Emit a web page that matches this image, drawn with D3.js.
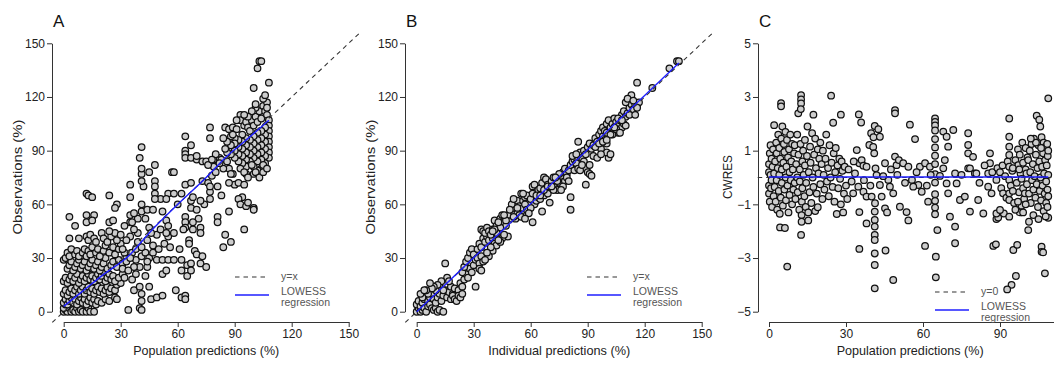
<!DOCTYPE html>
<html><head><meta charset="utf-8">
<script src="https://cdn.jsdelivr.net/npm/d3@7"></script>
<style>body{margin:0;background:#fff}text{font-family:"Liberation Sans",Arial,Helvetica,sans-serif}</style>
</head><body><svg id="c" width="1054" height="365"></svg>
<script>
const ticksObs = [0,30,60,90,120,150];
const ticksPredC = [0,30,60,90];
const ticksCwres = [-5,-3,-1,1,3,5];
const panelLetters = ["A","B","C"];
const xTitles = ["Population predictions (%)","Individual predictions (%)","Population predictions (%)"];
const yTitles = ["Observations (%)","Observations (%)","CWRES"];
const legendAB = ["y=x","LOWESS","regression"];
const legendC = ["y=0","LOWESS","regression"];
const lowessA = [[0,3],[10,11.5],[20,20],[35,32],[45,44],[61,61],[75,75],[86,87],[95,95],[108,107]];
const lowessB = [[0,0],[138,139]];
const lowessC = [[0,0.02],[108.8,0.02]];
const refAB = [[-6,-6],[156,156]];
const refC = [[-4.4,0],[113,0]];

const dataA = [
[0,0],[1,1],[2,0],[3,2],[4,0],[5,1],[6,0],[7,2],[8,0],[9,1],[10,0],[12,0],[13,2],[14,0],[16,0],[0,2],[1,4],
[0,5],[1,7],[2,4],[3,6],[4,8],[5,5],[6,7],[7,4],[8,6],[9,8],[10,5],[11,7],[12,4],[13,6],[14,8],[15,5],[16,7],[17,4],[18,6],[20,5],[22,7],[24,6],[27,8],[28,7],
[0,10],[1,12],[2,9],[3,11],[4,13],[5,10],[6,12],[7,14],[8,10],[9,12],[10,14],[11,10],[12,12],[13,14],[14,11],[15,13],[16,10],[17,12],[18,14],[19,11],[20,13],[21,10],[22,12],[23,14],[24,11],[25,13],[27,12],[28,15],[30,16],
[0,17],[1,19],[2,16],[3,18],[4,20],[5,17],[6,19],[7,21],[8,16],[9,18],[10,20],[11,17],[12,19],[13,21],[14,18],[15,20],[16,17],[17,19],[18,21],[19,18],[20,20],[21,22],[22,17],[23,19],[24,21],[25,18],[26,20],[27,17],[29,19],[31,21],
[0,29],[1,30],[2,24],[3,26],[4,28],[5,23],[6,25],[7,27],[8,29],[9,24],[10,26],[11,28],[12,23],[13,25],[14,27],[15,29],[16,24],[17,26],[18,28],[19,23],[20,25],[21,27],[22,30],[23,24],[25,26],[26,28],[28,25],[29,29],[31,27],[33,30],
[2,33],[3,31],[4,35],[6,32],[7,34],[8,31],[10,33],[11,35],[12,31],[13,34],[14,32],[15,36],[17,33],[18,35],[19,31],[21,34],[22,37],[24,33],[26,36],[27,32],[29,35],[30,38],[32,33],
[3,41],[8,41],[12,42],[13,40],[14,43],[16,41],[17,39],[20,44],[21,41],[23,39],[25,42],[27,44],[28,40],[30,43],[24,45],
[6,48],[3,53],[12,54],[12,50],[16,54],[15,51],[24,50],[26,51],[35,54],[35,50],
[12,66],[13,65],[15,64],[24,65],[28,60],[27,58],[35,71],[35,64],
[34,1],[40,2],[41,1],[41,6],[41,10],[45,14],[37,12],[43,20],[40,25],[44,25],[46,7],[49,8],[52,9],[37,25],[38,29],[36,33],[38,35],[41,31],[43,33],[45,30],[44,40],[47,37],[49,43],[51,46],[45,47],[46,44],[39,44],[37,46],[35,42],[39,39],[41,36],[49,29],[52,29],[55,29],[58,29],[52,21],[54,23],[55,42],[58,44],[54,44],[33,28],[35,30],[31,24],[32,19],[34,23],[36,18],[38,21],[40,14],[44,28],[47,33],[50,35],[53,38],[56,36],[39,52],[41,56],[41,60],[44,57],[47,57],[51,63],[52,56],[43,52],[36,50],[54,51],[55,48],[42,70],[41,73],[41,77],[41,80],[45,78],[40,86],[41,92],[48,82],[48,73],[48,70],[48,66],[48,63],[57,78],[58,78],[55,66],[58,66],[54,63],[60,60],[32,48],[37,55],[33,40],[31,35],
[62,66],[64,98],[67,93],[64,90],[64,88],[64,86],[67,86],[70,85],[73,84],[75,84],[70,87],[64,71],[67,72],[73,73],[77,67],[77,63],[67,62],[67,58],[64,53],[64,50],[64,47],[66,40],[71,52],[72,47],[68,46],[63,46],[61,35],[66,38],[69,34],[70,32],[73,31],[62,29],[65,26],[67,27],[72,27],[75,25],[62,23],[65,20],[67,23],[59,12],[62,8],[64,9],[64,7],[72,44],[77,103],[77,97],[79,85],[79,81],[82,86],[81,53],[81,50],[76,72],[77,70],[78,76],[80,78],[74,60],[70,57],[68,64],[72,62],[81,70],[83,65],[76,82],[68,50],
[85,103],[87,102],[89,103],[91,102],[93,110],[93,107],[95,104],[96,106],[97,103],[98,101],[99,107],[100,104],[101,109],[102,106],[103,112],[104,108],[105,115],[106,112],[107,117],[107,114],[107,110],[108,107],[108,104],[108,101],[108,98],[108,95],[108,92],[108,89],[108,86],[106,103],[106,99],[106,95],[106,91],[106,87],[106,83],[104,101],[104,97],[104,93],[104,89],[104,85],[104,80],[102,100],[102,96],[102,92],[102,88],[102,84],[102,79],[100,98],[100,94],[100,90],[100,86],[100,81],[100,77],[98,96],[98,92],[98,88],[98,84],[96,97],[96,93],[96,89],[96,85],[96,81],[96,77],[94,99],[94,95],[94,91],[94,87],[94,83],[92,96],[92,92],[92,88],[92,84],[90,97],[90,94],[90,90],[90,86],[88,98],[88,93],[88,88],[86,95],[86,89],[84,97],[87,80],[89,77],[93,80],[95,78],[97,75],[99,82],[101,78],[103,75],[105,82],[105,78],[107,80],[105,119],[101,114],[99,112],[97,109],[95,110],[91,107],[89,99],[83,85],[80,88],[78,85],[85,91],
[103,140],[104,140],[102,136],[108,128],[100,125],[106,121],[101,116],
[90,71],[92,72],[95,71],[94,64],[92,63],[93,60],[96,59],[97,61],[100,58],[100,57],[95,46],[87,72],[88,77],[84,80],[86,84],[82,83],[87,56],[84,36],[85,43],[88,39]
];

const dataB = [
[0,0],[1,2],[2,0],[3,1],[0,4],[1,6],[2,3],[3,5],[4,2],[5,0],[6,3],[4,7],[5,9],[6,6],[7,4],[8,2],[9,1],[10,2],[11,0],[12,1],[14,0],[7,8],[8,10],[9,7],[10,5],[11,8],[12,10],[13,6],[14,9],[15,12],[16,8],[17,11],[18,14],[19,10],[20,13],[21,9],[22,12],[23,16],[15,27],[16,19],[17,17],[18,7],[19,9],[20,7],[21,6],[22,9],[23,8],[24,10],[12,14],[13,17],[14,12],[10,12],[11,15],[9,14],[8,13],[6,10],[5,12],[3,8],[2,10],[4,12],[7,16],
[24,14],[25,18],[26,21],[27,19],[28,24],[29,22],[30,26],[24,22],[25,25],[26,28],[27,30],[28,33],[29,35],[30,32],[31,29],[32,30],[33,27],[34,31],[35,28],[31,14],[32,35],[33,38],[34,36],[35,41],[36,39],[37,42],[38,40],[39,44],[40,41],[41,38],[42,37],[34,46],[35,45],[36,44],[37,47],[38,45],[39,43],[40,46],[41,51],[42,48],[43,45],[44,52],[45,54],[46,50],[47,48],[48,42],[45,41],[46,43],[44,39],[43,40],[40,34],[39,36],[38,31],[37,33],[36,29],[33,24],[34,23],
[49,52],[50,55],[51,58],[52,60],[53,62],[54,59],[55,56],[56,62],[57,64],[58,65],[59,61],[60,63],[52,52],[53,55],[54,54],[55,53],[56,58],[57,60],[58,57],[55,66],[56,66],[50,60],[51,63],[61,50],[62,60],[63,62],[64,64],[65,63],[66,56],[67,65],[68,69],[69,66],[70,72],[61,70],[62,71],[63,67],[64,68],[65,69],[66,72],[67,75],[68,74],[69,71],[70,61],[71,73],[72,75],[73,70],[74,68],[75,72],[76,76],[77,78],[78,80],[79,77],[80,79],[81,82],[82,84],[83,85],[84,83],[85,95],[81,64],[81,57],[86,89],[87,86],[88,84],[89,80],[90,78],[89,71],[91,77],[92,76],[88,90],[89,88],[90,92],[91,94],[92,91],[93,93],[94,97],[95,95],[96,99],[97,101],[98,98],[99,96],[100,94],[101,86],[100,89],[102,88],[93,87],[95,86],[97,91],
[98,103],[99,101],[100,105],[101,107],[102,103],[103,105],[104,108],[105,106],[106,104],[107,107],[108,110],[109,112],[110,109],[111,111],[112,114],[113,116],[114,113],[115,116],[116,115],[117,117],[113,121],[110,117],[111,119],[112,110],[114,118],[115,110],[116,114],[108,103],[106,100],[104,101],[103,99],[105,102],[107,100],[109,105],[110,104],[116,128],[124,125],[133,136],[137,140],[138,140],
[91,82],[83,79],[82,87],[84,88],[85,80],[86,79],[87,82],[78,73],[77,70],[76,68],[79,75],[80,73],[72,68],[74,73],[75,77],[60,58],[59,55],[57,52],[48,54],[47,51],[46,54],[49,57],[51,53],[53,58],[44,47],[43,50],[42,44],[41,46],[40,45],[61,66],[63,65],[65,65],[67,68],[69,70],[71,70],[73,75],[94,92],[96,94],[98,95],[100,100],[102,99],[104,103],[106,108],[108,107],[100,96],[97,88]
];

const dataC = [
[0,0.2],[0,-0.3],[0,0.5],[0,-0.6],[0.3,0.9],[0.3,-0.9],[0.6,0.1],[0.6,1.2],[0.8,-0.4],[1,0.7],[1,-0.1],[1.2,-1.1],[1.4,0.4],[1.6,1.05],[1.8,-0.7],[2,1.95],[2,0.15],[2.2,-0.35],[2.4,0.6],[2.6,-0.9],[2.8,1.3],[3,-0.1],[3,0.9],[3.2,-1.2],[3.4,0.35],[3.6,1.6],[3.8,-0.5],[4,0.1],[4,1.1],[4.2,-1.35],[4.3,-1.86],[4.4,0.7],[4.6,-0.75],[4.7,2.77],[4.7,2.65],[4.8,1.45],[5,0.3],[5,-0.2],[5.2,1.9],[5.4,-1.05],[5.6,0.55],[5.8,1.25],[6,-0.45],[6,0.95],[6.2,-1.88],[6.4,1.7],[6.5,0.0],[6.6,-0.85],[6.8,0.4],[7,1.4],[7.1,-3.32],[7.2,-0.3],[7.4,0.75],[7.6,-1.3],[7.8,1.05],[8,0.2],[8,-0.65],[8.3,1.6],[8.5,-0.1],[8.7,0.6],[9,-1.0],[9,1.25],[9.3,0.3],[9.5,-0.45],[9.8,0.9],[10,-0.2],[10,1.2],[10.3,-0.8],[10.6,0.5],
[11,1.6],[11,0.0],[11.2,-0.55],[11.4,2.39],[11.5,0.85],[11.8,-1.2],[12,0.3],[12,-0.15],[12.3,1.25],[12.5,3.07],[12.5,2.91],[12.5,2.76],[12.4,2.55],[12.5,-2.14],[12.7,-1.4],[12.7,-1.65],[12.8,-0.9],[13,0.6],[13,-0.4],[13.3,1.0],[13.5,0.1],[13.8,-0.7],[14,1.4],[14,0.45],[14.3,-1.1],[14.5,-0.2],[14.8,0.8],[15,1.9],[15.3,-1.6],[15.3,-1.3],[15.5,0.2],[15.8,-0.55],[16,1.15],[16.2,0.55],[16.5,-0.95],[16.8,1.65],[17,0.0],[17.3,2.34],[17.3,-0.35],[17.6,0.85],[18,-1.25],[18,1.45],[18.3,0.35],[18.6,-0.6],[19,1.05],[19,-1.11],[19.3,0.15],[19.6,0.7],[20,-0.25],[20,1.3],
[20.5,0.5],[20.8,-0.8],[21,1.0],[21.3,0.1],[21.6,-0.45],[22,0.7],[22.3,1.6],[22.6,-0.15],[23,0.35],[23.3,-0.7],[23.6,1.2],[24,0.0],[24.2,3.05],[24.4,0.55],[24.8,-0.35],[25,2.04],[25.2,0.9],[25.5,-0.9],[25.8,0.2],[26,1.1],[26.4,-1.36],[26.7,0.45],[27,-0.4],[27.4,0.7],[27.7,-0.05],[28,2.34],[28,-1.0],[28.3,0.6],[28.6,0.25],[28.9,-1.3],[29.2,-0.6],[29.5,0.4],[30,-0.3],
[32.2,-0.15],[32.8,-0.59],[33.5,0.15],[34.2,1.02],[34.8,-0.34],[35,2.35],[35.2,0.53],[35.2,-1.29],[35.2,-2.66],[35.9,2.05],[36.1,0.65],[36.8,0.44],[36.8,-0.53],[38,0.4],[38,-0.71],[38,-1.71],[39.1,1.21],[39.8,1.65],[40.7,1.5],[41.2,1.92],[42.6,1.8],[43.2,1.52],[40.6,1.14],[41,0.9],[41.5,0.34],[41.9,0.09],[43.2,-0.28],[40,-0.71],[41.3,-0.96],[41.2,-1.27],[41.2,-1.58],[41.2,-1.83],[41.2,-2.14],[41.2,-2.33],[41.2,-2.83],[41.2,-3.26],[41.2,-4.13],[43.9,-0.71],[45.2,-1.15],[45.4,-2.72],[45.2,0.53],[46.5,-0.09],[47.1,-0.34],[48.4,-0.59],[49.1,2.51],[49.1,2.39],[48.4,-3.82],[49.1,0.78],[49.7,0.46],[50.6,0.65],[52.3,0.53],[54.3,0.4],[54.9,1.97],[56.9,1.43],[55.7,-0.09],[58.2,-0.28],[56.2,-0.34],[59.5,-0.53],[51,-1.09],[53.6,-1.29],[54.3,-1.6],[60.8,-2.55],[58.8,0.4],[60.8,0.53],[62.7,0.4],
[64.7,2.2],[64.7,2.07],[64.7,1.94],[64.7,1.75],[64.7,1.43],[64.7,1.12],[64.7,0.81],[64.7,0.5],[64.7,0.12],[64.7,-0.19],[64.7,-0.62],[64.7,-0.87],[64.7,-1.12],[64.7,-1.37],[65,-2.95],[65,-3.72],[65.6,-1.96],
[66.6,0.06],[67.9,0.34],[68.5,0.65],[69.2,-0.22],[69.8,-0.59],[70.5,-1.46],[67.9,1.71],[69.2,1.52],[69.8,1.15],[71.8,1.77],[72.5,-1.83],[72.5,-2.45],[72.5,0.15],[73.1,-0.22],[74.4,-0.84],[76.3,-0.71],[77.6,1.65],[77.6,1.21],[77.6,0.9],[77.6,0.34],[78.3,0.34],[78.3,-1.27],[80.2,0.15],[80.8,0.15],[81.5,-0.84],[83.5,-1.34],[85.4,0.15],[86.1,0.9],[86.1,0.53],[85.4,-0.34],[86.7,-0.59],[87.4,-2.55],[88.4,-2.49],[88.6,-1.55],[89.3,-1.49],[88.6,-1.34],[88.6,-0.09],[61.5,-0.3],[62,-0.9],[63,0.1],[57.5,0.2],[53,-0.2],[50,0.1],[47.5,0.3],[44.5,0.05],[39.5,-0.3],[37,-0.1],[31,0.3],[30.5,-0.8],[33,0.6],[46,-1.3],[75,0.1],[79.5,0.77],[82,-0.2],[84,0.45],[87,0.2],[89,0.35],
[90,0.2],[90.5,-0.4],[91,0.45],[91.2,-0.59],[91.5,-1.34],[90,-1.21],[92,0.05],[92.5,-0.75],[93,0.6],[93.6,2.2],[93.6,1.52],[93.6,1.15],[93.6,0.84],[93.6,0.4],[93.6,-0.09],[93.6,-0.59],[93.6,-0.84],[93.6,-1.46],[94.2,-0.3],[94.8,0.25],[95.2,-2.7],[95.5,-0.95],[96,0.65],[96.2,-3.67],[94.5,-4.0],[92.8,-4.17],[96.7,-2.51],[96.5,-0.2],[97,1.05],[97.1,0.46],[97.4,-0.55],[97.7,0.85],[97.7,-1.3],[98,0.15],[98.4,-0.05],[98.4,-1.05],[98.7,1.3],[99,-0.4],[99,0.55],[99.4,-0.8],[99.7,-0.59],[100,0.3],[100,1.1],[100.3,0.15],[100.5,-0.25],[100.7,0.75],[101,0.65],[101,-1.96],[101.3,-1.65],[101.3,-0.6],[101.6,1.0],[101.8,0.2],[102,-0.95],[102.3,1.25],[102.5,-0.1],[102.8,0.5],[103,-0.45],[103.2,1.45],[103.5,0.05],[103.8,-0.75],[104,0.85],[104.3,2.3],[104.3,-0.25],[104.6,0.35],[104.8,-1.1],[105,1.2],[105.3,2.15],[105.3,0.6],[105.5,-0.5],[105.7,1.9],[105.8,0.0],[106,-0.85],[106.2,-2.58],[106.2,-2.77],[106.8,-2.79],[106.2,1.5],[106.4,0.4],[106.6,-0.3],[106.8,0.9],[107,-1.25],[107,1.3],[107.2,0.15],[107.4,-0.6],[107.5,-3.57],[107.6,0.65],[107.8,1.15],[108,-0.15],[108,-0.95],[108.2,0.45],[108.4,1.25],[108.5,-0.45],[108.6,0.8],[108.8,2.95],[108.8,-1.5],[108.8,0.1],[108.8,-0.7],[108.8,1.0],[108.5,-1.1],[107.8,-1.45],[106,1.1],[104,1.3],[102,1.45],[100,-1.0],[99,-1.3],[97,-0.9],[95,-0.5],[95,0.35],[96,-1.2],[97.5,0.3],[103,-1.4],[105,-1.55]
];

const svg = d3.select("#c");
const minus = v => (v < 0 ? "\u2212" + Math.abs(v) : String(v));

function panel(cfg) {
  const g = svg.append("g");
  const x = d3.scaleLinear().domain(cfg.xDom).range(cfg.xRange);
  const y = d3.scaleLinear().domain(cfg.yDom).range([311.7, 43.3]);

  const xa = d3.axisBottom(x).tickValues(cfg.xTicks).tickSize(5).tickSizeOuter(0).tickPadding(2).tickFormat(minus);
  const ya = d3.axisLeft(y).tickValues(cfg.yTicks).tickSize(5).tickSizeOuter(0).tickPadding(2).tickFormat(minus);
  const gx = g.append("g").attr("transform", "translate(0,322)").call(xa);
  const gy = g.append("g").attr("transform", `translate(${cfg.yAxisX},0)`).call(ya);
  [gx, gy].forEach(a => {
    a.selectAll("path,line").attr("stroke", "#333").attr("stroke-width", 1);
    a.selectAll("text").attr("font-size", 12).attr("fill", "#222")
      .attr("font-family", "'Liberation Sans',Arial,sans-serif");
  });

  g.append("g").selectAll("circle").data(cfg.data).join("circle")
    .attr("cx", d => x(d[0])).attr("cy", d => y(d[1])).attr("r", 3.3)
    .attr("fill", "#cdcdcd").attr("stroke", "#111").attr("stroke-width", 1.25);

  const line = d3.line().x(d => x(d[0])).y(d => y(d[1]));
  g.append("path").datum(cfg.ref).attr("d", line).attr("fill", "none")
    .attr("stroke", "#333").attr("stroke-width", 1.1).attr("stroke-dasharray", "4.5,4");
  g.append("path").datum(cfg.lowess).attr("d", line.curve(d3.curveMonotoneX)).attr("fill", "none")
    .attr("stroke", "#1f1fff").attr("stroke-width", 1.4);

  g.append("text").attr("x", cfg.yAxisX + 1).attr("y", 27).attr("font-size", 17).attr("fill", "#111").text(cfg.letter);

  const xc = (x(0) + x(cfg.titleEnd)) / 2;
  g.append("text").attr("x", xc).attr("y", 355).attr("text-anchor", "middle")
    .attr("font-size", 13).attr("fill", "#222")
    .attr("textLength", cfg.xTitleLen).attr("lengthAdjust", "spacingAndGlyphs").text(cfg.xTitle);
  g.append("text").attr("transform", `translate(${cfg.yTitleX},177) rotate(-90)`)
    .attr("text-anchor", "middle").attr("font-size", 13).attr("fill", "#222")
    .attr("textLength", cfg.yTitleLen).attr("lengthAdjust", "spacingAndGlyphs").text(cfg.yTitle);

  const lx = cfg.legX, ly = cfg.legY;
  g.append("line").attr("x1", lx).attr("x2", lx + 34).attr("y1", ly).attr("y2", ly)
    .attr("stroke", "#333").attr("stroke-width", 1.1).attr("stroke-dasharray", "4.5,4");
  g.append("line").attr("x1", lx).attr("x2", lx + 34).attr("y1", ly + cfg.legGap).attr("y2", ly + cfg.legGap)
    .attr("stroke", "#1f1fff").attr("stroke-width", 1.4);
  const lt = g.append("g").attr("font-size", 10.5).attr("fill", "#555");
  lt.append("text").attr("x", lx + 46).attr("y", ly + 3).text(cfg.legend[0]);
  lt.append("text").attr("x", lx + 46).attr("y", ly + cfg.legGap).text(cfg.legend[1]);
  lt.append("text").attr("x", lx + 46).attr("y", ly + cfg.legGap + 11).text(cfg.legend[2]);
}

panel({letter: panelLetters[0], xDom: [0,150], xRange: [63.7,348.7], yDom: [0,150], xTicks: ticksObs, yTicks: ticksObs,
  yAxisX: 52, data: dataA, ref: refAB, lowess: lowessA, xTitle: xTitles[0], yTitle: yTitles[0], titleEnd: 150,
  xTitleLen: 146, yTitleLen: 115, yTitleX: 22, legX: 235, legY: 277, legGap: 18, legend: legendAB});
panel({letter: panelLetters[1], xDom: [0,150], xRange: [416.7,701.7], yDom: [0,150], xTicks: ticksObs, yTicks: ticksObs,
  yAxisX: 405, data: dataB, ref: refAB, lowess: lowessB, xTitle: xTitles[1], yTitle: yTitles[1], titleEnd: 150,
  xTitleLen: 142, yTitleLen: 115, yTitleX: 375, legX: 587, legY: 277, legGap: 18, legend: legendAB});
panel({letter: panelLetters[2], xDom: [0,120], xRange: [769,1077], yDom: [-5,5], xTicks: ticksPredC, yTicks: ticksCwres,
  yAxisX: 758, data: dataC, ref: refC, lowess: lowessC, xTitle: xTitles[2], yTitle: yTitles[2], titleEnd: 110,
  xTitleLen: 147, yTitleLen: 44, yTitleX: 732, legX: 935, legY: 292, legGap: 18, legend: legendC});
</script></body></html>
